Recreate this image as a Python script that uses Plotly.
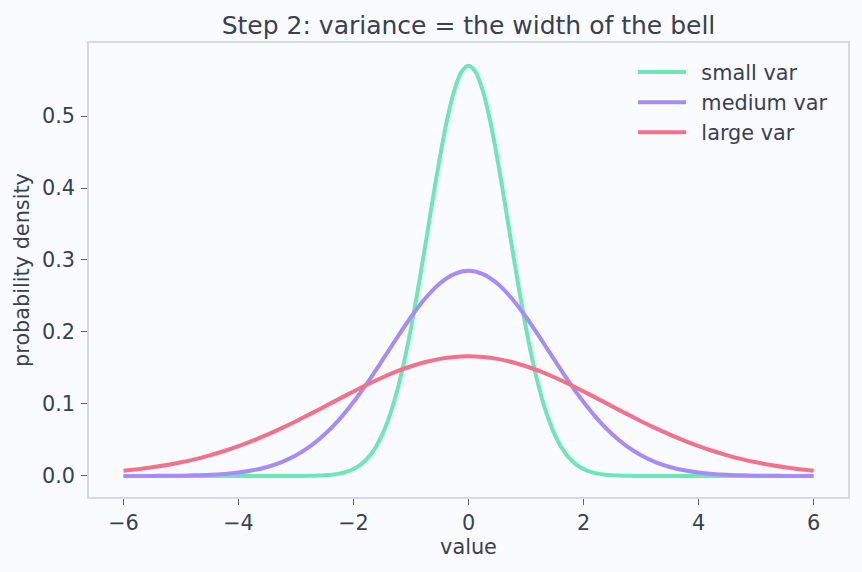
import plotly.graph_objects as go

# medium / large variance curves, sampled every 0.25
x_vals = [-6.0, -5.75, -5.5, -5.25, -5.0, -4.75, -4.5, -4.25, -4.0, -3.75, -3.5, -3.25,
          -3.0, -2.75, -2.5, -2.25, -2.0, -1.75, -1.5, -1.25, -1.0, -0.75, -0.5, -0.25,
          0.0, 0.25, 0.5, 0.75, 1.0, 1.25, 1.5, 1.75, 2.0, 2.25, 2.5, 2.75, 3.0, 3.25,
          3.5, 3.75, 4.0, 4.25, 4.5, 4.75, 5.0, 5.25, 5.5, 5.75, 6.0]

# small variance curve is sharp, so it is read more densely near the peak
x_small = [-6.0, -5.0, -4.0, -3.5, -3.0, -2.875, -2.75, -2.625, -2.5, -2.375, -2.25,
           -2.125, -2.0, -1.875, -1.75, -1.625, -1.5, -1.375, -1.25, -1.125, -1.0,
           -0.875, -0.75, -0.625, -0.5, -0.375, -0.25, -0.125, 0.0, 0.125, 0.25, 0.375,
           0.5, 0.625, 0.75, 0.875, 1.0, 1.125, 1.25, 1.375, 1.5, 1.625, 1.75, 1.875,
           2.0, 2.125, 2.25, 2.375, 2.5, 2.625, 2.75, 2.875, 3.0, 3.5, 4.0, 5.0, 6.0]

small_var = [0.0, 0.0, 0.0, 0.000002, 0.000059, 0.000124, 0.000254, 0.000504, 0.000969,
             0.001804, 0.003253, 0.005684, 0.00962, 0.01577, 0.02504, 0.03851, 0.05737,
             0.08279, 0.11571, 0.15665, 0.20542, 0.26092, 0.32102, 0.38256, 0.44158,
             0.49373, 0.53470, 0.56089,
             0.56991,
             0.56089, 0.53470, 0.49373, 0.44158, 0.38256, 0.32102, 0.26092, 0.20542,
             0.15665, 0.11571, 0.08279, 0.05737, 0.03851, 0.02504, 0.01577, 0.00962,
             0.005684, 0.003253, 0.001804, 0.000969, 0.000504, 0.000254, 0.000124,
             0.000059, 0.000002, 0.0, 0.0, 0.0]

medium_var = [0.0000293, 0.0000619, 0.000127, 0.000252, 0.000484, 0.000902, 0.001627,
              0.002842, 0.004810, 0.007885, 0.01252, 0.01926, 0.02869, 0.04139, 0.05786,
              0.07833, 0.10271, 0.13046, 0.16051, 0.19128, 0.22080, 0.24687, 0.26735,
              0.28045,
              0.28496,
              0.28045, 0.26735, 0.24687, 0.22080, 0.19128, 0.16051, 0.13046, 0.10271,
              0.07833, 0.05786, 0.04139, 0.02869, 0.01926, 0.01252, 0.007885, 0.004810,
              0.002842, 0.001627, 0.000902, 0.000484, 0.000252, 0.000127, 0.0000619,
              0.0000293]

large_var = [0.00730, 0.00942, 0.01203, 0.01519, 0.01898, 0.02345, 0.02866, 0.03465,
             0.04145, 0.04904, 0.05740, 0.06645, 0.07610, 0.08622, 0.09662, 0.10712,
             0.11746, 0.12742, 0.13673, 0.14514, 0.15240, 0.15830, 0.16266, 0.16533,
             0.16623,
             0.16533, 0.16266, 0.15830, 0.15240, 0.14514, 0.13673, 0.12742, 0.11746,
             0.10712, 0.09662, 0.08622, 0.07610, 0.06645, 0.05740, 0.04904, 0.04145,
             0.03465, 0.02866, 0.02345, 0.01898, 0.01519, 0.01203, 0.00942, 0.00730]

series_names = ["small var", "medium var", "large var"]
series_colors = ["#6ee7b7", "#a78bfa", "#f47189"]

x_tick_vals = [-6, -4, -2, 0, 2, 4, 6]
x_tick_text = ["\u22126", "\u22124", "\u22122", "0", "2", "4", "6"]
y_tick_vals = [0.0, 0.1, 0.2, 0.3, 0.4, 0.5]

title_text = "Step 2: variance = the width of the bell"
x_label = "value"
y_label = "probability density"

FONT = "DejaVu Sans"
TEXT = "#374151"
BG = "#fafbfe"
FRAME = "#d5d8e8"
TICK = "#5b6172"
FS = 20.8

fig = go.Figure()
for name, xs, ys, col in zip(series_names, [x_small, x_vals, x_vals],
                             [small_var, medium_var, large_var], series_colors):
    fig.add_trace(go.Scatter(
        x=xs, y=ys, mode="lines", name="\u2002" + name,
        line=dict(color=col, width=4, shape="spline", smoothing=0.8),
    ))

axis_common = dict(
    showline=True, linecolor=FRAME, linewidth=1.5, mirror=True,
    showgrid=False, zeroline=False,
    ticks="outside", ticklen=6, tickwidth=1.2, tickcolor=TICK,
    tickfont=dict(family=FONT, size=FS, color=TEXT),
)

fig.update_xaxes(
    range=[-6.6, 6.6], tickmode="array", tickvals=x_tick_vals, ticktext=x_tick_text,
    title=dict(text=x_label, font=dict(family=FONT, size=FS, color=TEXT), standoff=6),
    **axis_common,
)
fig.update_yaxes(
    range=[-0.0292, 0.6014], tickmode="array", tickvals=y_tick_vals, tickformat=".1f",
    ticklabelstandoff=2,
    title=dict(text=y_label, font=dict(family=FONT, size=FS, color=TEXT), standoff=7),
    **axis_common,
)

fig.update_layout(
    width=862, height=572,
    margin=dict(l=89, r=14, t=43, b=75),
    paper_bgcolor=BG, plot_bgcolor=BG,
    font=dict(family=FONT, color=TEXT),
    title=dict(text=title_text, x=0.5, xref="paper", xanchor="center",
               y=1, yref="paper", yanchor="bottom", pad=dict(b=9),
               font=dict(family=FONT, size=25, color=TEXT)),
    legend=dict(x=0.7167, y=0.98, xanchor="left", yanchor="top",
                bgcolor="rgba(0,0,0,0)", borderwidth=0,
                font=dict(family=FONT, size=FS, color=TEXT),
                itemwidth=48, tracegroupgap=0),
    showlegend=True,
)

fig.write_html("out.html")
